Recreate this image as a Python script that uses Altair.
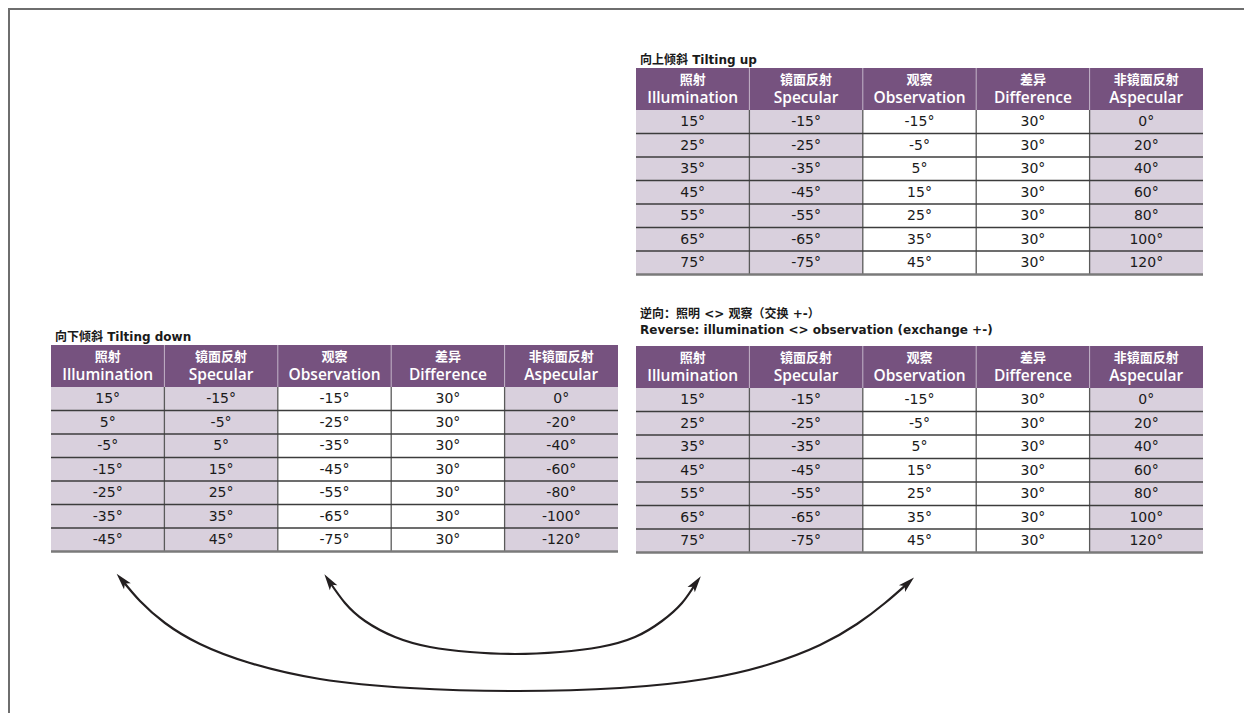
import altair as alt
import pandas as pd

# ---------------- data ----------------
columns_cn = ["照射", "镜面反射", "观察", "差异", "非镜面反射"]
columns_en = ["Illumination", "Specular", "Observation", "Difference", "Aspecular"]

up_illumination = [15, 25, 35, 45, 55, 65, 75]
up_specular = [-15, -25, -35, -45, -55, -65, -75]
up_observation = [-15, -5, 5, 15, 25, 35, 45]
up_difference = [30, 30, 30, 30, 30, 30, 30]
up_aspecular = [0, 20, 40, 60, 80, 100, 120]

down_illumination = [15, 5, -5, -15, -25, -35, -45]
down_specular = [-15, -5, 5, 15, 25, 35, 45]
down_observation = [-15, -25, -35, -45, -55, -65, -75]
down_difference = [30, 30, 30, 30, 30, 30, 30]
down_aspecular = [0, -20, -40, -60, -80, -100, -120]

rev_illumination = [15, 25, 35, 45, 55, 65, 75]
rev_specular = [-15, -25, -35, -45, -55, -65, -75]
rev_observation = [-15, -5, 5, 15, 25, 35, 45]
rev_difference = [30, 30, 30, 30, 30, 30, 30]
rev_aspecular = [0, 20, 40, 60, 80, 100, 120]

title_up = ["向上倾斜 Tilting up"]
title_down = ["向下倾斜 Tilting down"]
title_rev = ["逆向：照明 <> 观察（交换 +-）",
             "Reverse: illumination <> observation (exchange +-)"]

# arrow paths (image pixel coords)
outer_x = [122, 140, 165, 200, 250, 320, 410, 517, 620, 705, 770, 820, 857, 885, 908]
outer_y = [580, 601, 623, 644, 663, 679, 688, 691, 688, 679, 664, 645, 624, 603, 583]
inner_x = [329, 345, 365, 395, 430, 470, 515, 560, 600, 635, 662, 682, 696]
inner_y = [581, 603, 621, 637, 647, 652, 654, 652, 647, 637, 621, 603, 583]

# ---------------- layout (pixels) ----------------
W, H = 1236, 705
OX, OY = 8, 8
COL_W = 113.4
HEAD_H = 42
ROW_H = 23.5
PURPLE = "#76527f"
LILAC = "#d9d0dd"
FONT = "DejaVu Sans, Noto Sans CJK SC"
FONT_HEAD = "Open Sans, DejaVu Sans, Noto Sans CJK SC"

tables = [
    dict(name="up", left=636, top=68, titles=title_up, title_y=[60],
         cols=[up_illumination, up_specular, up_observation, up_difference, up_aspecular]),
    dict(name="down", left=51, top=345, titles=title_down, title_y=[337],
         cols=[down_illumination, down_specular, down_observation, down_difference, down_aspecular]),
    dict(name="rev", left=636, top=346, titles=title_rev, title_y=[314, 330],
         cols=[rev_illumination, rev_specular, rev_observation, rev_difference, rev_aspecular]),
]
shade = ["lilac", "lilac", "white", "white", "lilac"]

cells, heads, htext, titles, hlines, vlines = [], [], [], [], [], []
for t in tables:
    L, T = t["left"], t["top"]
    R = L + 5 * COL_W
    nrows = len(t["cols"][0])
    B = T + HEAD_H + nrows * ROW_H
    heads.append(dict(x=L, x2=R, y=T, y2=T + HEAD_H))
    for tx, ty in zip(t["titles"], t["title_y"]):
        titles.append(dict(x=L + 4, y=ty, text=tx))
    for c in range(5):
        cx = L + (c + 0.5) * COL_W
        htext.append(dict(x=cx, y=T + 12, text=columns_cn[c], kind="cn"))
        htext.append(dict(x=cx, y=T + 29.5, text=columns_en[c], kind="en"))
        for r, v in enumerate(t["cols"][c]):
            y0 = T + HEAD_H + r * ROW_H
            cells.append(dict(x=L + c * COL_W, x2=L + (c + 1) * COL_W, y=y0, y2=y0 + ROW_H,
                              shade=shade[c], cx=cx, cy=y0 + ROW_H / 2 + 0.5, text=f"{v}°"))
        if c > 0:
            vx = L + c * COL_W
            vlines.append(dict(x=vx, y=T, y2=T + HEAD_H, kind="head"))
            vlines.append(dict(x=vx, y=T + HEAD_H, y2=B, kind="body"))
    for r in range(1, nrows):
        hlines.append(dict(x=L, x2=R, y=T + HEAD_H + r * ROW_H, kind="row"))
    hlines.append(dict(x=L, x2=R, y=B, kind="bottom"))

arrows = []
for i, (xs, ys) in enumerate([(outer_x, outer_y), (inner_x, inner_y)]):
    for j, (a, b) in enumerate(zip(xs, ys)):
        arrows.append(dict(arrow=i, seq=j, x=a, y=b))
heads_pts = pd.DataFrame([
    dict(x=outer_x[0], y=outer_y[0], angle=319),
    dict(x=outer_x[-1], y=outer_y[-1], angle=47),
    dict(x=inner_x[0], y=inner_y[0], angle=326),
    dict(x=inner_x[-1], y=inner_y[-1], angle=36),
])

xs_ = alt.Scale(domain=[OX, OX + W], nice=False, zero=False)
ys_ = alt.Scale(domain=[OY, OY + H], nice=False, zero=False, reverse=True)


def X(f="x"):
    return alt.X(f, type="quantitative", scale=xs_, axis=None)


def Y(f="y"):
    return alt.Y(f, type="quantitative", scale=ys_, axis=None)


cells_df = pd.DataFrame(cells)

cell_rects = alt.Chart(cells_df).mark_rect(strokeWidth=0).encode(
    x=X(), x2="x2", y=Y(), y2="y2",
    color=alt.Color("shade:N", scale=alt.Scale(domain=["lilac", "white"], range=[LILAC, "#ffffff"]), legend=None),
)
head_rects = alt.Chart(pd.DataFrame(heads)).mark_rect(color=PURPLE, strokeWidth=0).encode(
    x=X(), x2="x2", y=Y(), y2="y2")

vl = pd.DataFrame(vlines)
v_head = alt.Chart(vl[vl.kind == "head"]).mark_rule(color="#c4b5c9", strokeWidth=1).encode(
    x=X(), y=Y(), y2="y2")
v_body = alt.Chart(vl[vl.kind == "body"]).mark_rule(color="#5a5a5a", strokeWidth=1.3).encode(
    x=X(), y=Y(), y2="y2")
hl = pd.DataFrame(hlines)
h_row = alt.Chart(hl[hl.kind == "row"]).mark_rule(color="#3c3c3c", strokeWidth=1.4).encode(
    x=X(), x2="x2", y=Y())
h_bot = alt.Chart(hl[hl.kind == "bottom"]).mark_rule(color="#7a7a7a", strokeWidth=2.6).encode(
    x=X(), x2="x2", y=Y())

cell_text = alt.Chart(cells_df).mark_text(font=FONT, fontSize=14, color="#1a1a1a", baseline="middle").encode(
    x=X("cx"), y=Y("cy"), text="text:N")

ht = pd.DataFrame(htext)
head_cn = alt.Chart(ht[ht.kind == "cn"]).mark_text(
    font=FONT, fontSize=13, fontWeight="bold", color="white", baseline="middle").encode(
    x=X(), y=Y(), text="text:N")
head_en = alt.Chart(ht[ht.kind == "en"]).mark_text(
    font=FONT_HEAD, fontSize=15.5, fontWeight=600, color="white", baseline="middle").encode(
    x=X(), y=Y(), text="text:N")

title_text = alt.Chart(pd.DataFrame(titles)).mark_text(
    font=FONT, fontSize=12, fontWeight="bold", color="#1a1a1a", align="left", baseline="middle").encode(
    x=X(), y=Y(), text="text:N")

arrow_lines = alt.Chart(pd.DataFrame(arrows)).mark_line(
    interpolate="natural", color="#231f20", strokeWidth=2.2).encode(
    x=X(), y=Y(), detail="arrow:N", order="seq:Q")

ARROW_SHAPE = "M0,-1L0.55,1L0,0.55L-0.55,1Z"
arrow_heads = alt.Chart(heads_pts).mark_point(
    shape=ARROW_SHAPE, filled=True, color="#231f20", size=270, opacity=1, strokeWidth=0).encode(
    x=X(), y=Y(), angle=alt.Angle("angle:Q", scale=None))

border = pd.DataFrame([dict(x=OX, x2=OX + W, y=OY + 1, y2=OY + 1),
                       dict(x=OX + 1, x2=OX + 1, y=OY, y2=OY + H)])
border_top = alt.Chart(border.iloc[[0]]).mark_rule(color="#6e6e6e", strokeWidth=2).encode(
    x=X(), x2="x2", y=Y())
border_left = alt.Chart(border.iloc[[1]]).mark_rule(color="#6e6e6e", strokeWidth=2).encode(
    x=X(), y=Y(), y2="y2")

chart = alt.layer(
    cell_rects, head_rects, v_head, v_body, h_row, h_bot,
    cell_text, head_cn, head_en, title_text,
    arrow_lines, arrow_heads, border_top, border_left,
).properties(
    width=W, height=H, padding=0, autosize=alt.AutoSizeParams(type="none"),
    background="white",
).configure_view(stroke=None)

chart.save("out.html", embed_options={"renderer": "svg", "actions": False})
